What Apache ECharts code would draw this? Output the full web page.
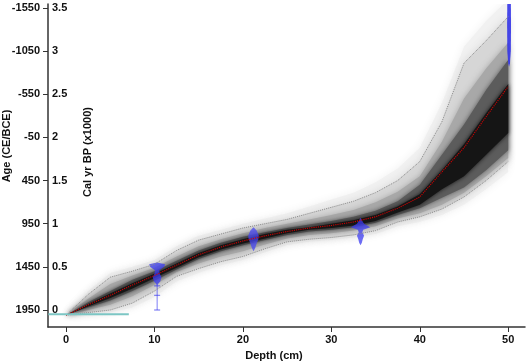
<!DOCTYPE html>
<html>
<head>
<meta charset="utf-8">
<script src="https://cdn.jsdelivr.net/npm/echarts@6/dist/echarts.min.js"></script>
<style>
html, body { margin: 0; padding: 0; background: #fff; }
#chart { width: 529px; height: 363px; }
</style>
</head>
<body>
<div id="chart"></div>
<script>
// depth (cm) nodes of the age model, ages in cal kyr BP
var depths = [0, 2.5, 5, 7.5, 10, 12.5, 15, 17.5, 20, 22.5, 25, 27.5, 30, 32.5, 35, 37.5, 40, 42.5, 45, 47.5, 50];
var meanAge = [-0.06, 0.06, 0.17, 0.29, 0.40, 0.52, 0.64, 0.73, 0.80, 0.86, 0.91, 0.95, 0.98, 1.02, 1.08, 1.18, 1.31, 1.60, 1.88, 2.24, 2.59];
var lower95 = [-0.06, -0.03, 0.00, 0.08, 0.22, 0.39, 0.48, 0.56, 0.62, 0.71, 0.79, 0.82, 0.84, 0.87, 0.92, 1.02, 1.08, 1.17, 1.31, 1.50, 1.72];
var upper95 = [-0.06, 0.18, 0.38, 0.45, 0.53, 0.69, 0.81, 0.88, 0.95, 1.00, 1.05, 1.12, 1.19, 1.26, 1.36, 1.50, 1.72, 2.18, 2.86, 3.12, 3.40];

// grey cloud bands (outer -> core)
var outerLo = [-0.06, -0.05, -0.03, 0.03, 0.15, 0.33, 0.43, 0.52, 0.58, 0.67, 0.75, 0.79, 0.81, 0.84, 0.88, 0.97, 1.02, 1.10, 1.22, 1.40, 1.60];
var outerHi = [-0.06, 0.22, 0.43, 0.50, 0.58, 0.74, 0.86, 0.93, 1.00, 1.06, 1.12, 1.20, 1.28, 1.36, 1.48, 1.64, 1.88, 2.40, 3.05, 3.35, 3.60];
var b80Lo = [-0.06, 0.00, 0.06, 0.16, 0.29, 0.44, 0.54, 0.62, 0.68, 0.76, 0.83, 0.87, 0.89, 0.92, 0.97, 1.06, 1.12, 1.22, 1.36, 1.55, 1.76];
var b80Hi = [-0.06, 0.13, 0.30, 0.40, 0.49, 0.62, 0.74, 0.82, 0.89, 0.95, 1.00, 1.05, 1.10, 1.16, 1.25, 1.37, 1.55, 1.95, 2.45, 2.80, 3.10];
var b50Lo = [-0.06, 0.03, 0.11, 0.22, 0.34, 0.47, 0.59, 0.68, 0.75, 0.81, 0.87, 0.91, 0.93, 0.96, 1.01, 1.10, 1.18, 1.30, 1.42, 1.62, 1.85];
var b50Hi = [-0.06, 0.09, 0.22, 0.35, 0.45, 0.57, 0.69, 0.78, 0.85, 0.90, 0.95, 0.99, 1.03, 1.08, 1.15, 1.26, 1.45, 1.80, 2.15, 2.55, 2.90];
var coreLo = [-0.06, 0.04, 0.14, 0.25, 0.37, 0.49, 0.61, 0.70, 0.77, 0.83, 0.89, 0.93, 0.95, 0.98, 1.03, 1.13, 1.22, 1.40, 1.55, 1.80, 2.05];
var coreHi = [-0.06, 0.07, 0.19, 0.31, 0.42, 0.54, 0.66, 0.75, 0.82, 0.88, 0.93, 0.96, 1.00, 1.04, 1.10, 1.20, 1.34, 1.62, 1.92, 2.28, 2.62];

// calibrated dates: depth, and profile [age kyr BP, half width in cm]
var dateDepths = [10.3, 21.2, 33.3, 50.1];
var dateProfiles = [
	[[0.55, 0], [0.53, 0.9], [0.50, 0.8], [0.46, 0.25], [0.42, 0.3], [0.38, 0.5], [0.33, 0.35], [0.30, 0.1], [0.28, 0.05], [0.0, 0.05]],
	[[0.96, 0], [0.92, 0.35], [0.86, 0.6], [0.82, 0.55], [0.77, 0.35], [0.72, 0.2], [0.68, 0]],
	[[1.07, 0], [1.04, 0.15], [1.00, 0.4], [0.96, 1.1], [0.93, 0.3], [0.90, 0.2], [0.86, 0.4], [0.82, 0.25], [0.78, 0.15], [0.75, 0]],
	[[3.60, 0.2], [3.30, 0.22], [3.00, 0.2], [2.86, 0.1], [2.82, 0]]
];
var dateCaps = [[10.3, 0.17], [10.3, 0.0], [10.3, 0.28]];

// surface age
var surfaceLine = [[-2, -0.05], [7.1, -0.05]];

// axis ticks
var depthTicks = [0, 10, 20, 30, 40, 50];
var ageTicks = [0, 0.5, 1, 1.5, 2, 2.5, 3, 3.5];

var bold = { fontFamily: 'Liberation Sans', fontWeight: 'bold', fontSize: 11, color: '#111' };

// grey band of the age-model cloud, edges softened with a blur
function bandSeries(lo, hi, color, blur) {
	return {
		type: 'custom',
		clip: true,
		silent: true,
		data: [0],
		renderItem: function (params, api) {
			var pts = [];
			for (var i = 0; i < depths.length; i++) pts.push(api.coord([depths[i], lo[i]]));
			for (var j = depths.length - 1; j >= 0; j--) pts.push(api.coord([depths[j], hi[j]]));
			return { type: 'polygon', shape: { points: pts },
				style: { fill: color, shadowBlur: blur, shadowColor: color } };
		}
	};
}

function dateSeries(k, color) {
	return {
		type: 'custom',
		clip: true,
		silent: true,
		data: [0],
		renderItem: function (params, api) {
			var d = dateDepths[k], prof = dateProfiles[k], pts = [];
			for (var i = 0; i < prof.length; i++) pts.push(api.coord([d - prof[i][1], prof[i][0]]));
			for (var j = prof.length - 1; j >= 0; j--) pts.push(api.coord([d + prof[j][1], prof[j][0]]));
			return { type: 'polygon', shape: { points: pts }, style: { fill: color } };
		}
	};
}

function pairs(ys) {
	var out = [];
	for (var i = 0; i < depths.length; i++) out.push([depths[i], ys[i]]);
	return out;
}

var option = {
	animation: false,
	grid: { left: 48, right: 4, top: 4, bottom: 36, containLabel: false },
	xAxis: {
		type: 'value',
		min: -2.04,
		max: 51.9,
		axisLine: { onZero: false, lineStyle: { color: '#333', width: 1.5 } },
		axisTick: { customValues: depthTicks, length: 5, lineStyle: { color: '#333' } },
		axisLabel: Object.assign({ customValues: depthTicks, margin: 7 }, bold),
		splitLine: { show: false }
	},
	yAxis: [{
		type: 'value',
		min: -0.197,
		max: 3.546,
		position: 'left',
		axisLine: { show: true, onZero: false, lineStyle: { color: '#333', width: 1.5 } },
		axisTick: { show: true, customValues: ageTicks, length: 5, lineStyle: { color: '#333' } },
		axisLabel: Object.assign({
			customValues: ageTicks, margin: 8,
			formatter: function (v) { return String(Math.round(1950 - v * 1000)); }
		}, bold),
		splitLine: { show: false }
	}, {
		type: 'value',
		min: -0.197,
		max: 3.546,
		position: 'left',
		axisLine: { show: false, onZero: false },
		axisTick: { show: false },
		axisLabel: Object.assign({ customValues: ageTicks, inside: true, margin: 4 }, bold),
		splitLine: { show: false }
	}],
	graphic: [
		{ type: 'text', x: 7, y: 146, rotation: Math.PI / 2,
		  style: { text: 'Age (CE/BCE)', font: 'bold 11px "Liberation Sans"', fill: '#111', align: 'center', verticalAlign: 'middle' } },
		{ type: 'text', x: 88, y: 152, rotation: Math.PI / 2,
		  style: { text: 'Cal yr BP (x1000)', font: 'bold 11px "Liberation Sans"', fill: '#111', align: 'center', verticalAlign: 'middle' } },
		{ type: 'text', x: 274, y: 356,
		  style: { text: 'Depth (cm)', font: 'bold 11px "Liberation Sans"', fill: '#111', align: 'center', verticalAlign: 'middle' } }
	],
	series: [
		bandSeries(outerLo, outerHi, '#f1f1f1', 10),
		bandSeries(lower95, upper95, '#d6d6d6', 8),
		bandSeries(b80Lo, b80Hi, '#a8a8a8', 6),
		bandSeries(b50Lo, b50Hi, '#5c5c5c', 5),
		bandSeries(coreLo, coreHi, '#151515', 4),
		{ type: 'line', data: pairs(lower95), symbol: 'none', silent: true,
		  lineStyle: { color: '#8a8a8a', width: 1, type: 'dotted' } },
		{ type: 'line', data: pairs(upper95), symbol: 'none', silent: true,
		  lineStyle: { color: '#8a8a8a', width: 1, type: 'dotted' } },
		{ type: 'line', data: pairs(meanAge), symbol: 'none', silent: true,
		  lineStyle: { color: '#d40000', width: 1.1, type: 'dotted' } },
		{ type: 'line', data: surfaceLine, symbol: 'none', silent: true,
		  lineStyle: { color: '#7cc6c4', width: 2 } },
		dateSeries(0, 'rgba(60,60,240,0.75)'),
		dateSeries(1, 'rgba(70,70,240,0.75)'),
		dateSeries(2, 'rgba(60,60,240,0.75)'),
		dateSeries(3, 'rgba(40,40,230,0.85)'),
		{ type: 'scatter', data: dateCaps, symbol: 'rect', symbolSize: [6, 1.2], silent: true,
		  itemStyle: { color: 'rgba(60,60,240,0.8)' } }
	]
};

var myChart = echarts.init(document.getElementById('chart'));
myChart.setOption(option);

window.onresize = myChart.resize;
</script>
</body>
</html>
